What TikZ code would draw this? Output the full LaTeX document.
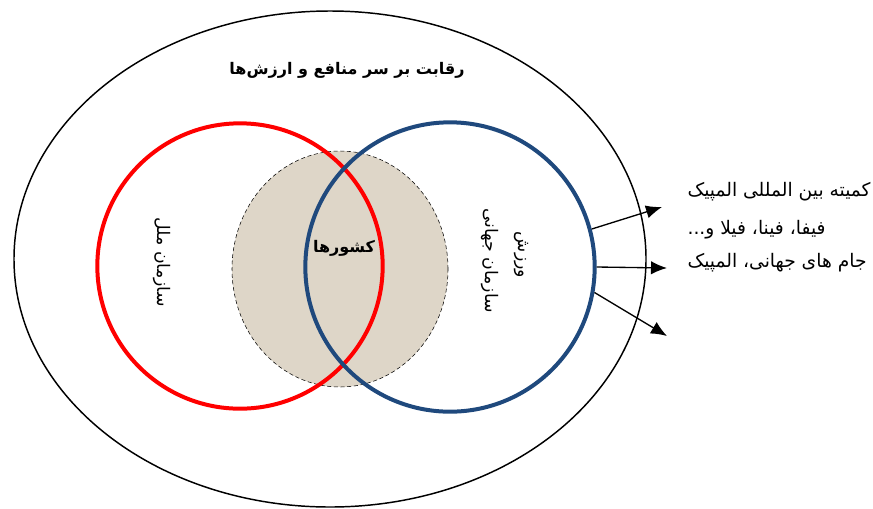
\documentclass[tikz,border=0pt]{standalone}
\usepackage{fontspec}
\usetikzlibrary{shapes.geometric,arrows.meta}
\newfontfamily\arabicfont[Script=Arabic]{DejaVu Sans}
\TeXXeTstate=1
\definecolor{melalred}{RGB}{255,0,0}
\definecolor{sportblue}{RGB}{31,73,125}
\definecolor{sand}{RGB}{222,214,200}
\tikzstyle{every picture}=[>={Latex[length=12pt,width=10pt]}]
\tikzstyle{fa}=[font=\arabicfont,inner sep=1pt]
\tikzstyle{ring}=[circle,inner sep=0pt,line width=3pt]

\begin{document}
\begin{tikzpicture}[x=0.75pt,y=-0.75pt]
    \useasboundingbox (0,0) rectangle (873,508);
    % outer ellipse
    \node[ellipse,draw,line width=1.1pt,inner sep=0pt,minimum width=474pt,minimum height=372pt] (rivalry) at (330,259) {};
    \node[fa] (title) at (347,70) {\bfseries\fontsize{12}{14}\selectfont\beginR رقابت بر سر منافع و ارزش‌ها\endR};
    % countries in the middle
    \node[ellipse,draw,densely dashed,thin,fill=sand,inner sep=0pt,minimum width=162pt,minimum height=177pt] (countries) at (340,269) {};
    % UN circle
    \node[ring,draw=melalred,minimum size=214pt] (melal) at (240,266) {};
    % world sport circle
    \node[ring,draw=sportblue,minimum size=217pt] (sport) at (450,267) {};
    \node[fa] (keshvar) at (344,248) {\bfseries\fontsize{12}{14}\selectfont\beginR کشورها\endR};
    \node[fa,rotate=-90] (melaltxt) at (162,262) {\fontsize{13}{15}\selectfont\beginR سازمان ملل\endR};
    \node[fa,rotate=-90] (sporttxt1) at (490,261) {\fontsize{13}{15}\selectfont\beginR سازمان جهانی\endR};
    \node[fa,rotate=-90] (sporttxt2) at (521,255) {\fontsize{13}{15}\selectfont\beginR ورزش\endR};
    % arrows out of the blue circle
    \coordinate (e1) at (662,207);
    \coordinate (e2) at (667,268);
    \coordinate (e3) at (667,336);
    \draw[->,line width=1pt] (sport.15) -- (e1);
    \draw[->,line width=1pt] (sport.0) -- (e2);
    \draw[->,line width=1pt] (sport.-10) -- (e3);
    % the bodies
    \node[fa,anchor=west] (ioc) at (686,192) {\fontsize{14}{16}\selectfont\beginR کمیته بین المللی المپیک\endR};
    \node[fa,anchor=west] (fifa) at (686,230) {\fontsize{14}{16}\selectfont\beginR فیفا، فینا، فیلا و...\endR};
    \node[fa,anchor=west] (cups) at (686,263) {\fontsize{14}{16}\selectfont\beginR جام های جهانی، المپیک\endR};
\end{tikzpicture}
\end{document}
